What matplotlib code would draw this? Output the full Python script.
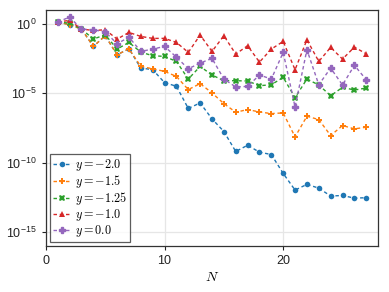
import numpy as np
import matplotlib
matplotlib.use("Agg")
import matplotlib.pyplot as plt
import matplotlib.ticker as mticker

plt.rcParams['mathtext.fontset'] = 'cm'
plt.rcParams['font.family'] = ['Liberation Sans', 'DejaVu Sans']

N = list(range(1, 28))

# log10 of the values
log_m20 = [0.14, -0.07, -0.38, -1.63, -0.86, -2.23, -1.80, -3.19, -3.30, -4.24,
           -4.50, -6.10, -5.70, -6.85, -7.76, -9.20, -8.75, -9.25, -9.42, -10.78,
           -11.98, -11.57, -11.84, -12.41, -12.37, -12.56, -12.53]
log_m15 = [0.14, -0.07, -0.38, -1.63, -0.86, -2.23, -1.80, -3.07, -3.24, -3.43,
           -3.79, -4.74, -4.31, -4.98, -5.75, -6.37, -6.18, -6.35, -6.47, -6.42,
           -8.15, -6.66, -6.90, -8.05, -7.33, -7.57, -7.45]
log_m125 = [0.12, 0.05, -0.38, -1.10, -0.79, -1.82, -1.34, -2.04, -2.30, -2.35,
            -2.71, -3.98, -3.07, -3.69, -4.10, -4.10, -4.12, -4.46, -4.39, -3.86,
            -5.32, -3.98, -4.41, -5.18, -4.58, -4.77, -4.63]
log_m10 = [0.14, 0.24, -0.38, -0.48, -0.43, -1.10, -0.62, -0.91, -1.05, -1.05,
           -1.34, -2.06, -0.81, -1.99, -0.86, -2.18, -1.58, -2.76, -1.82, -1.27,
           -3.31, -1.15, -2.71, -1.70, -2.54, -1.68, -2.16]
log_00 = [0.14, 0.48, -0.38, -0.43, -0.58, -1.44, -0.96, -1.99, -1.82, -1.63,
          -2.40, -3.24, -2.83, -2.49, -3.98, -4.55, -4.51, -3.69, -3.98, -2.06,
          -5.99, -1.87, -4.39, -3.19, -4.41, -2.99, -4.03]

labels = [r'$y=-2.0$', r'$y=-1.5$', r'$y=-1.25$', r'$y=-1.0$', r'$y=0.0$']
series = [log_m20, log_m15, log_m125, log_m10, log_00]
colors = ['#1f77b4', '#ff7f0e', '#2ca02c', '#d62728', '#9467bd']
markers = ['o', 'P', 'X', '^', 'P']
msizes = [4, 4.5, 4.5, 4.5, 5]
medges = [0, 0, 0, 0, 1.0]

fig = plt.figure(figsize=(3.89, 2.92), dpi=100)
ax = fig.add_axes([0.118, 0.158, 0.854, 0.808])

for vals, lab, c, m, ms, mew in zip(series, labels, colors, markers, msizes, medges):
    ax.plot(N, 10.0 ** np.array(vals), linestyle=(0, (2.5, 2)), linewidth=1.0,
            color=c, marker=m, markersize=ms, markeredgewidth=mew,
            markeredgecolor=c, label=lab)

ax.set_yscale('log')
ax.set_xlim(0, 28)
ax.set_ylim(1e-16, 1e1)
ax.yaxis.set_major_locator(mticker.FixedLocator([1e0, 1e-5, 1e-10, 1e-15]))
ax.yaxis.set_minor_locator(mticker.NullLocator())
ax.set_xticks([0, 10, 20])
ax.tick_params(labelsize=9, length=3, width=0.8, colors='#222222')
ax.grid(True, color='#e6e6e6', linewidth=0.9)
ax.set_axisbelow(True)
for sp in ax.spines.values():
    sp.set_color('#333333')
    sp.set_linewidth(0.9)

ax.set_xlabel(r'$N$', fontsize=10, labelpad=2)

leg = ax.legend(loc='lower left', fontsize=8.8, frameon=True, fancybox=False,
                edgecolor='#333333', handlelength=1.5, handletextpad=0.3,
                borderpad=0.25, labelspacing=0.0, borderaxespad=0.3)
leg.get_frame().set_linewidth(0.9)

fig.savefig('out.png', dpi=100)
